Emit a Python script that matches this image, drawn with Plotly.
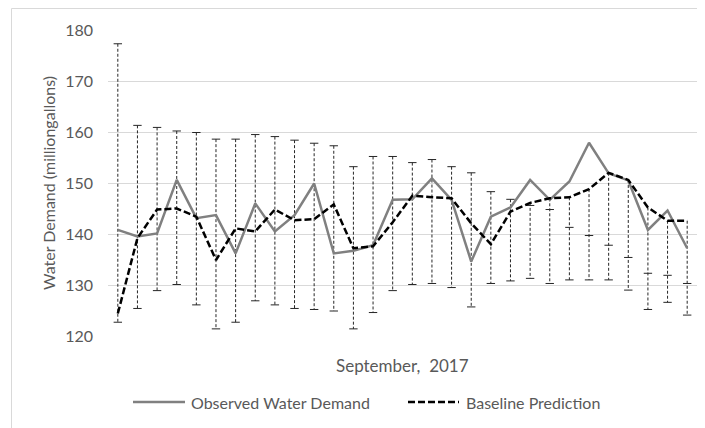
import plotly.graph_objects as go

days = list(range(1, 31))
observed = [140.8, 139.5, 140.1, 150.6, 143.1, 143.7, 136.2, 146.0, 140.5, 143.7,
            149.9, 136.2, 136.7, 137.8, 146.7, 146.8, 150.9, 146.7, 134.6, 143.4,
            145.2, 150.6, 146.7, 150.3, 157.9, 151.9, 150.5, 140.8, 144.6, 137.2]
predicted = [124.4, 139.2, 144.8, 145.0, 143.4, 134.9, 141.1, 140.5, 144.8, 142.7,
             142.9, 145.8, 137.2, 137.6, 142.3, 147.5, 147.2, 147.0, 142.1, 138.0,
             144.4, 146.1, 147.0, 147.2, 148.8, 152.0, 150.6, 145.2, 142.6, 142.6]
upper = [177.3, 161.3, 160.9, 160.2, 159.9, 158.6, 158.6, 159.5, 159.1, 158.4,
         157.8, 157.3, 153.2, 155.2, 155.2, 154.0, 154.6, 153.2, 152.0, 148.3,
         146.8, 145.6, 144.8, 141.3, 139.7, 137.8, 135.4, 132.3, 131.9, 130.3]
lower = [122.7, 125.4, 128.9, 130.1, 126.1, 121.4, 122.7, 126.9, 126.1, 125.4,
         125.2, 124.9, 121.4, 124.6, 128.9, 130.1, 130.3, 129.5, 125.7, 130.3,
         130.8, 131.3, 130.3, 131.0, 131.0, 131.0, 129.0, 125.2, 126.6, 124.1]
y_ticks = [120, 130, 140, 150, 160, 170, 180]

FONT = "Lato"
TXT = "#595959"
GRID = "#d9d9d9"

# error bar segments (vertical dashed) built from the data arrays
seg_x, seg_y = [], []
for d, p, u, l in zip(days, predicted, upper, lower):
    seg_x += [d, d, None]
    seg_y += [max(u, p), l, None]

fig = go.Figure()
fig.add_trace(go.Scatter(x=seg_x, y=seg_y, mode="lines",
                         line=dict(color="#262626", width=1, dash="3px,2px"),
                         hoverinfo="skip", showlegend=False))
fig.add_trace(go.Scatter(x=days + days, y=upper + lower, mode="markers",
                         marker=dict(symbol="line-ew", size=6,
                                     line=dict(color="#262626", width=1)),
                         hoverinfo="skip", showlegend=False))
fig.add_trace(go.Scatter(x=days, y=observed, mode="lines",
                         name="Observed Water Demand",
                         line=dict(color="#808080", width=2.5), showlegend=False))
fig.add_trace(go.Scatter(x=days, y=predicted, mode="lines",
                         name="Baseline Prediction",
                         line=dict(color="#000000", width=2.5, dash="7px,3px"),
                         showlegend=False))

OFF = 8  # page body margin
W, H = 705 - OFF, 428 - OFF
L, T = 108 - OFF, 30 - OFF
R = W - (697 - OFF)
B = H - (336 - OFF)
pw, ph = W - L - R, H - T - B


def px(x):  # page pixel -> paper
    return (x - OFF - L) / pw


def py(y):
    return (H - B - (y - OFF)) / ph


shapes = [
    # chart border
    dict(type="rect", xref="paper", yref="paper", x0=px(11.5), x1=px(730),
         y0=py(450), y1=py(8.5), line=dict(color=GRID, width=1), layer="below"),
    # legend samples
    dict(type="line", xref="paper", yref="paper", x0=px(133), x1=px(185),
         y0=py(402), y1=py(402), line=dict(color="#808080", width=2.5)),
    dict(type="line", xref="paper", yref="paper", x0=px(408), x1=px(459),
         y0=py(402), y1=py(402), line=dict(color="#000000", width=2.5, dash="7px,3px")),
]

annotations = [
    dict(text="Observed Water Demand", xref="paper", yref="paper", x=px(189), y=py(402),
         xanchor="left", yanchor="middle", showarrow=False,
         font=dict(family=FONT, size=16, color=TXT)),
    dict(text="Baseline Prediction", xref="paper", yref="paper", x=px(464), y=py(402),
         xanchor="left", yanchor="middle", showarrow=False,
         font=dict(family=FONT, size=16, color=TXT)),
    dict(text="September,\u00a0\u00a02017", xref="paper", yref="paper", x=0.5, y=py(365),
         xanchor="center", yanchor="middle", showarrow=False,
         font=dict(family=FONT, size=17, color=TXT)),
    dict(text="Water Demand (milliongallons)", xref="paper", yref="paper", x=px(48), y=0.5,
         xanchor="center", yanchor="middle", showarrow=False, textangle=-90,
         font=dict(family=FONT, size=16, color=TXT)),
]

fig.update_layout(
    width=W, height=H, autosize=False,
    margin=dict(l=L, r=R, t=T, b=B, pad=0),
    paper_bgcolor="white", plot_bgcolor="white",
    showlegend=False,
    shapes=shapes, annotations=annotations,
    font=dict(family=FONT, size=16, color=TXT),
    xaxis=dict(range=[0.5, 30.5], showticklabels=False, showgrid=False,
               zeroline=False, showline=False, ticks=""),
    yaxis=dict(range=[120, 180], tickvals=y_ticks, showgrid=True, gridcolor=GRID,
               gridwidth=1, zeroline=False, showline=False, ticks="",
               ticklabelstandoff=14,
               tickfont=dict(family=FONT, size=16, color=TXT)),
)

fig.write_html("out.html")
